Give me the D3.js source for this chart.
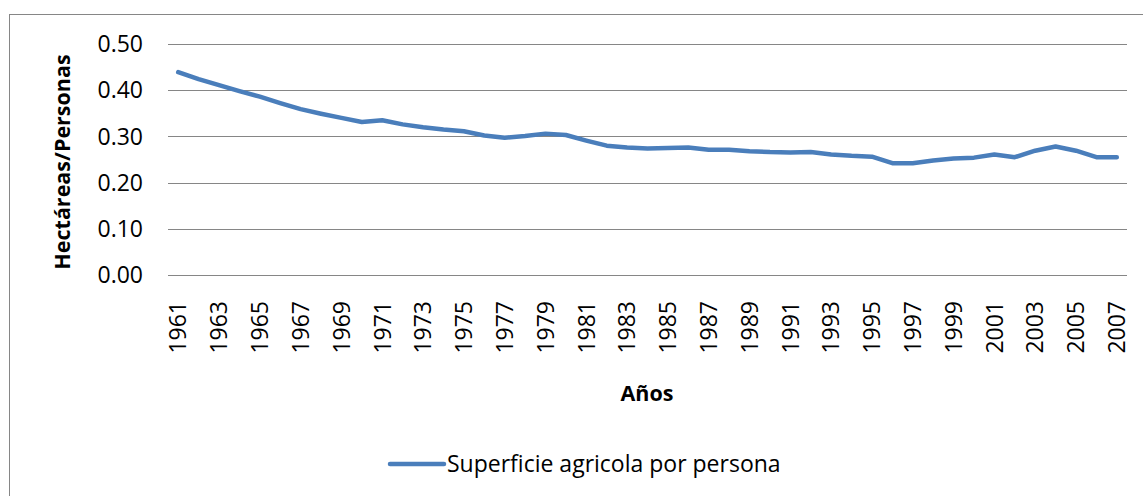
<!DOCTYPE html>
<meta charset="utf-8">
<style>
body { margin: 0; background: #fff; }
text { font-family: 'Open Sans', sans-serif; fill: #000; }
.grid line { stroke: #868686; stroke-width: 1.2px; }
.tick-label { font-size: 23px; }
.axis-title { font-size: 21.5px; font-weight: bold; }
</style>
<svg width="1143" height="496"></svg>
<script src="https://d3js.org/d3.v7.min.js"></script>
<script>
// data
var years = d3.range(1961, 2008);
var superficie = [
	0.439, 0.424, 0.411, 0.398, 0.386, 0.372, 0.359, 0.349, 0.340, 0.331,
	0.335, 0.326, 0.320, 0.315, 0.311, 0.302, 0.297, 0.301, 0.306, 0.303,
	0.291, 0.280, 0.276, 0.274, 0.275, 0.276, 0.271, 0.271, 0.268, 0.266,
	0.265, 0.266, 0.261, 0.258, 0.256, 0.242, 0.242, 0.248, 0.252, 0.254,
	0.261, 0.255, 0.269, 0.278, 0.269, 0.255, 0.255
];
var yTicks = [0, 0.1, 0.2, 0.3, 0.4, 0.5];
var seriesName = "Superficie agricola por persona";

var svg = d3.select("svg");

// chart border (runs off right and bottom)
svg.append("rect")
	.attr("x", 9.5).attr("y", 14.5)
	.attr("width", 1150).attr("height", 500)
	.attr("fill", "none")
	.attr("stroke", "#868686")
	.attr("stroke-width", 1);

var plotLeft = 168, plotRight = 1127, plotTop = 44, plotBottom = 275;

var x = d3.scalePoint()
	.domain(years)
	.range([plotLeft, plotRight])
	.padding(0.5);

var y = d3.scaleLinear()
	.domain([0, 0.5])
	.range([plotBottom, plotTop]);

// gridlines
svg.append("g")
	.attr("class", "grid")
	.selectAll("line")
	.data(yTicks)
	.enter().append("line")
	.attr("x1", plotLeft).attr("x2", plotRight)
	.attr("y1", function(d) { return Math.round(y(d)) + 0.5; })
	.attr("y2", function(d) { return Math.round(y(d)) + 0.5; });

// y labels
svg.append("g")
	.selectAll("text")
	.data(yTicks)
	.enter().append("text")
	.attr("class", "tick-label")
	.attr("x", 143)
	.attr("y", function(d) { return y(d); })
	.attr("dy", "0.36em")
	.attr("text-anchor", "end")
	.text(function(d) { return d3.format(".2f")(d); });

// x labels, every other year
svg.append("g")
	.selectAll("text")
	.data(years.filter(function(d, i) { return i % 2 == 0; }))
	.enter().append("text")
	.attr("class", "tick-label")
	.attr("transform", function(d) { return "translate(" + x(d) + ",301) rotate(-90)"; })
	.attr("dy", "0.36em")
	.attr("text-anchor", "end")
	.text(function(d) { return d; });

// axis titles
svg.append("text")
	.attr("class", "axis-title")
	.attr("transform", "translate(62,162) rotate(-90)")
	.attr("dy", "0.36em")
	.attr("text-anchor", "middle")
	.text("Hectáreas/Personas");

svg.append("text")
	.attr("class", "axis-title")
	.attr("x", 647)
	.attr("y", 393)
	.attr("dy", "0.36em")
	.attr("text-anchor", "middle")
	.text("Años");

// the series
var line = d3.line()
	.x(function(d, i) { return x(years[i]); })
	.y(function(d) { return y(d); });

svg.append("path")
	.datum(superficie)
	.attr("fill", "none")
	.attr("stroke", "#4a7ebb")
	.attr("stroke-width", 4.5)
	.attr("stroke-linejoin", "round")
	.attr("stroke-linecap", "round")
	.attr("d", line);

// legend
var legend = svg.append("g");
legend.append("line")
	.attr("x1", 390).attr("x2", 444)
	.attr("y1", 464).attr("y2", 464)
	.attr("stroke", "#4a7ebb")
	.attr("stroke-width", 4.5)
	.attr("stroke-linecap", "round");
legend.append("text")
	.attr("class", "tick-label")
	.attr("x", 447)
	.attr("y", 464)
	.attr("dy", "0.36em")
	.text(seriesName);
</script>
